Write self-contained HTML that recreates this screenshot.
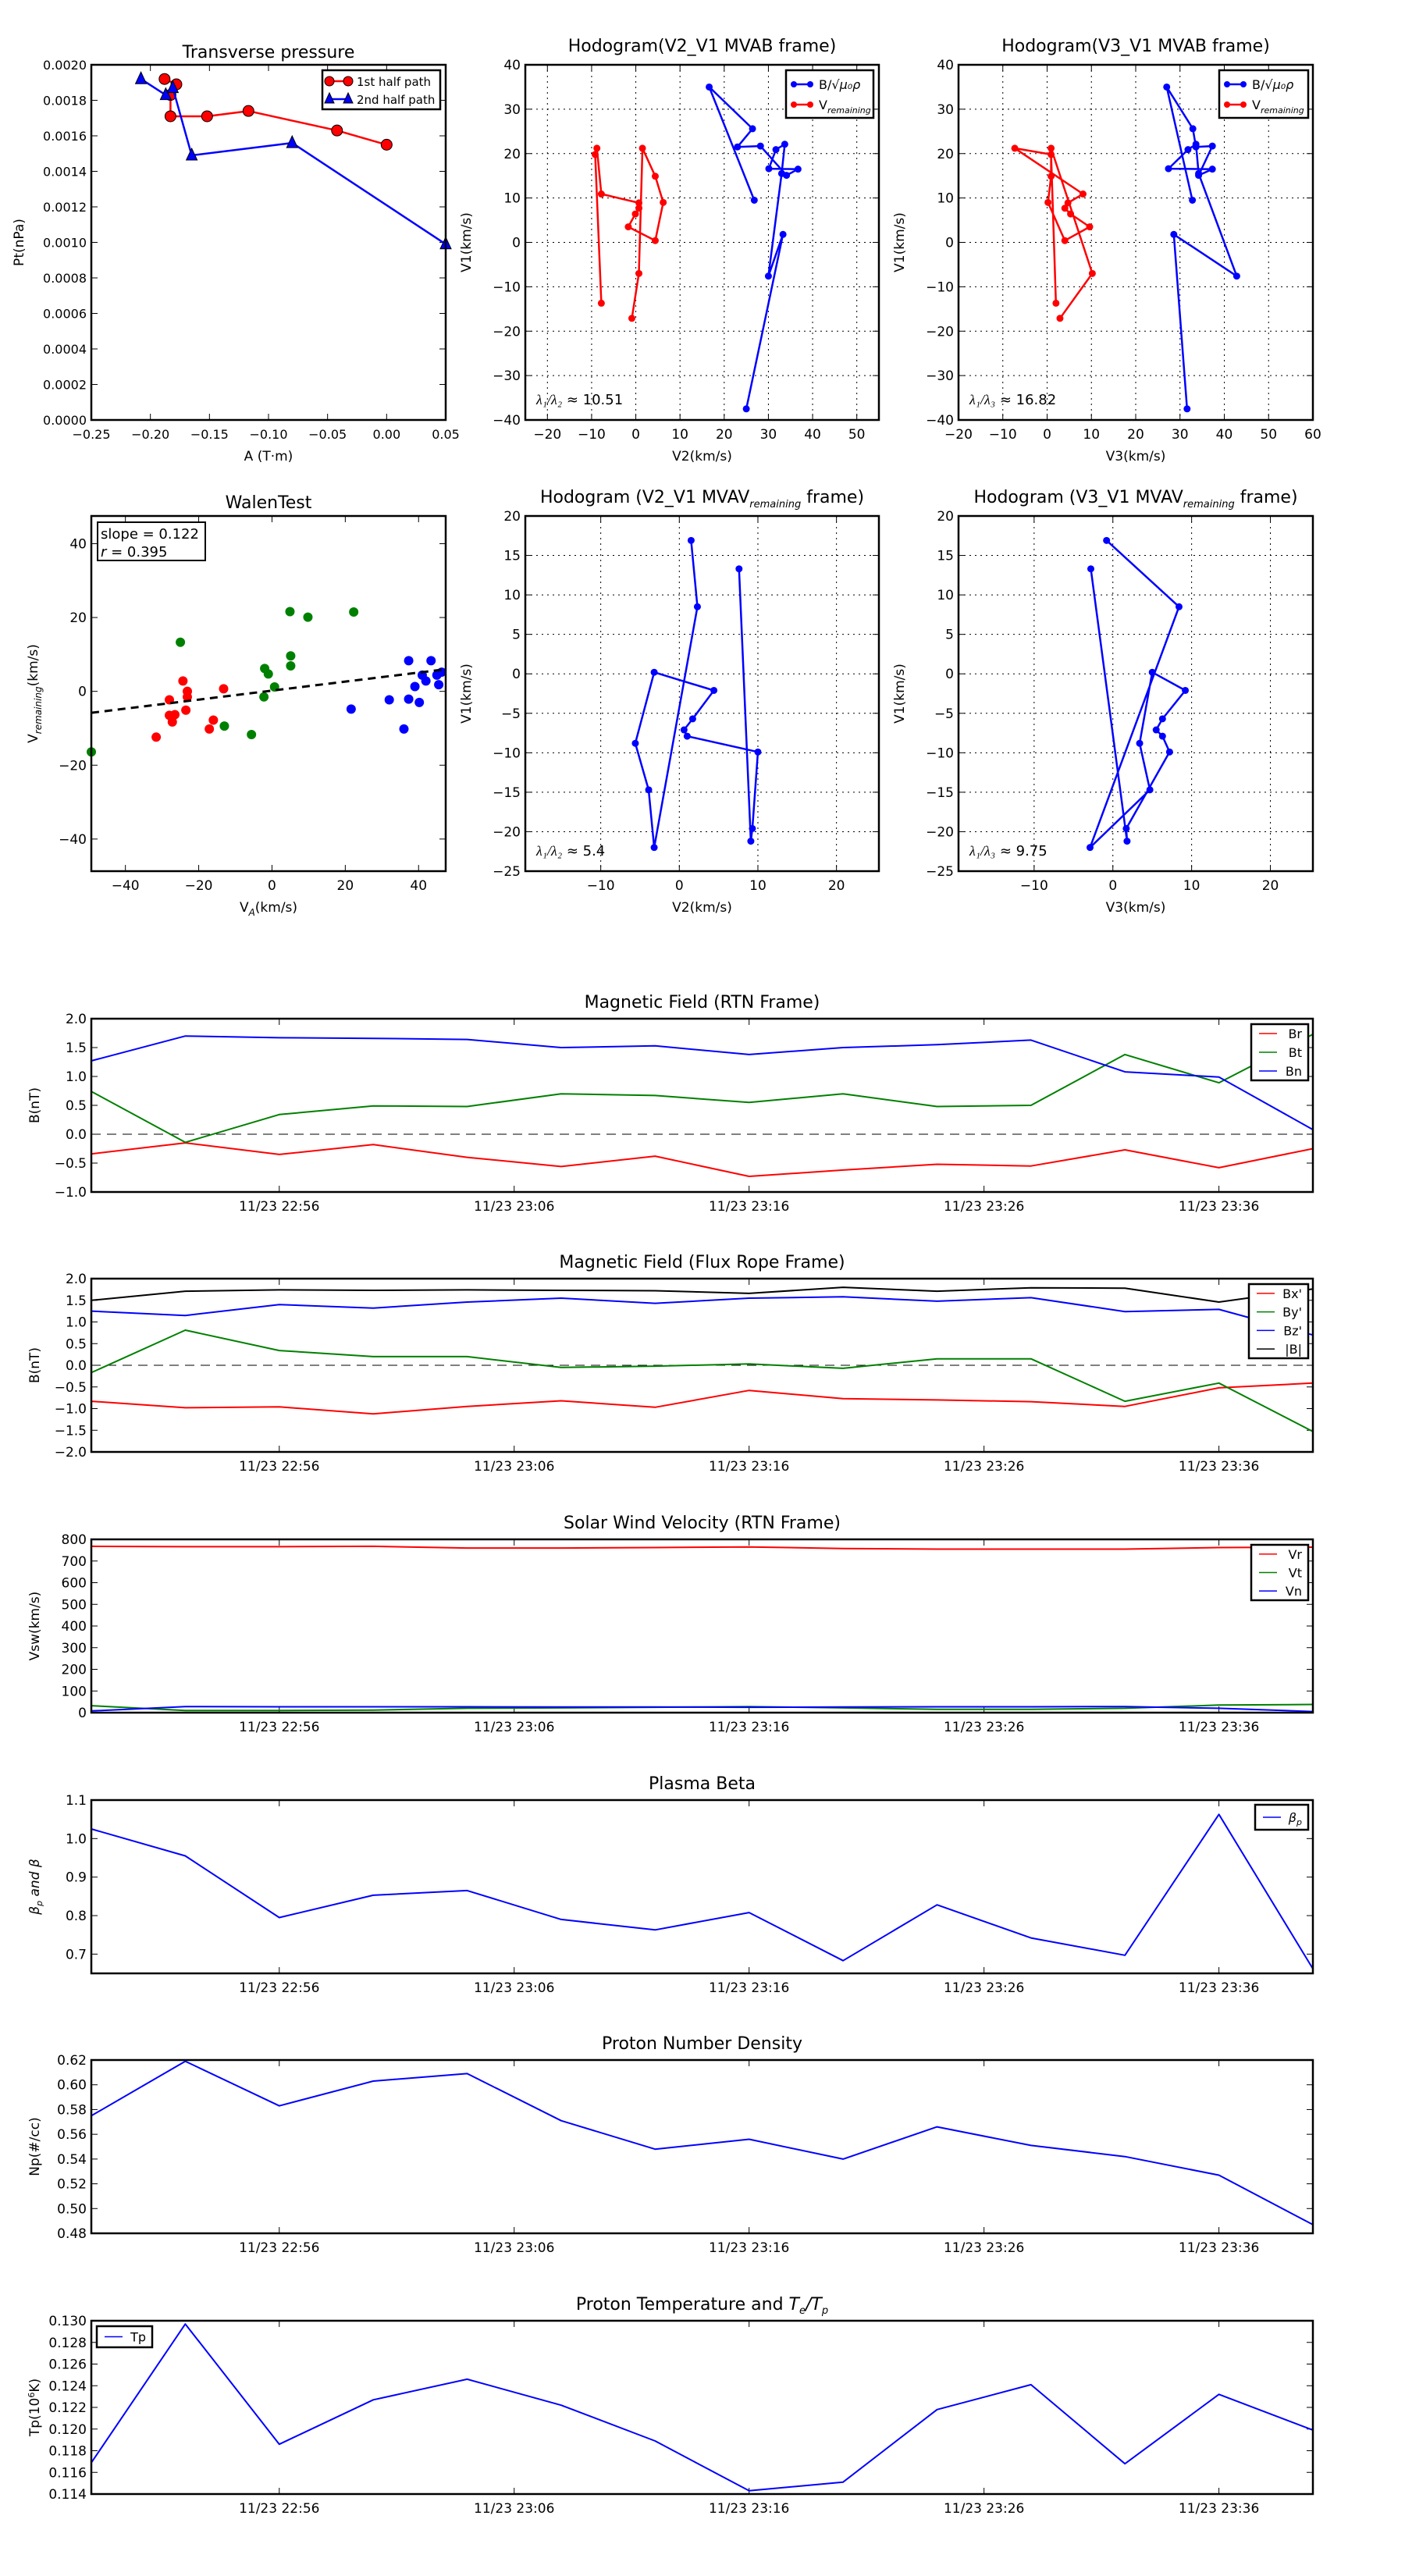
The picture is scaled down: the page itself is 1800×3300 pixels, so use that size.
<!DOCTYPE html>
<html><head><meta charset="utf-8"><style>
body{margin:0;background:#fff}
svg{display:block;font-family:"DejaVu Sans","Liberation Sans",sans-serif}
</style></head><body>
<svg id="fig" width="1800" height="3300" viewBox="0 0 1800 3300" xmlns="http://www.w3.org/2000/svg"></svg>
<script>
// ---------- data ----------
const tpRedA=[-0.188,-0.178,-0.183,-0.183,-0.152,-0.117,-0.042,0.0];
const tpRedP=[0.00192,0.00189,0.00183,0.00171,0.00171,0.00174,0.00163,0.00155];
const tpBlueA=[-0.208,-0.187,-0.181,-0.165,-0.08,0.05];
const tpBlueP=[0.00192,0.00183,0.00187,0.00149,0.00156,0.00099];

const h1B_V1=[9.5,35,25.6,21.5,21.7,15.1,16.5,16.6,20.9,22.1,15.5,-7.6,1.8,-37.5];
const h1B_V2=[26.8,16.6,26.4,23,28.2,34.1,36.7,30.1,31.7,33.7,33.0,30,33.3,25];
const h1B_V3=[32.8,27,32.9,33.6,37.3,34.2,37.3,27.4,31.8,33.6,34.2,42.8,28.6,31.6];
const h1V_V1=[-13.7,19.8,21.2,10.9,8.9,7.7,6.4,3.5,0.4,9.0,14.9,21.2,-7.0,-17.1];
const h1V_V2=[-7.8,-9.2,-8.8,-7.8,0.7,0.7,-0.1,-1.7,4.4,6.2,4.4,1.5,0.7,-0.9];
const h1V_V3=[2.0,0.9,-7.3,8.1,4.7,4.0,5.3,9.6,4.0,0.2,0.9,0.9,10.2,2.9];

const h2_V1=[16.9,8.5,-22.0,-14.7,-8.8,0.2,-2.1,-5.7,-7.1,-7.9,-9.9,-19.6,-21.2,13.3];
const h2_V2=[1.5,2.3,-3.2,-3.9,-5.6,-3.2,4.4,1.7,0.6,1.0,10,9.3,9.1,7.6];
const h2_V3=[-0.8,8.4,-2.9,4.7,3.4,5.0,9.2,6.3,5.5,6.3,7.2,1.7,1.8,-2.8];

const wRedX=[-24.3,-23.1,-23.1,-28,-13.2,-23.5,-26.5,-28,-27.2,-16,-17.1,-31.6];
const wRedY=[2.8,0,-1.5,-2.3,0.7,-5.1,-6.3,-6.5,-8.3,-7.8,-10.2,-12.4];
const wGreenX=[4.9,22.3,9.8,-25,5.1,5.1,-2,-1,0.7,-2.2,-13,-5.6,-49.3];
const wGreenY=[21.6,21.5,20.1,13.3,9.6,6.9,6.2,4.7,1.2,-1.5,-9.4,-11.7,-16.4];
const wBlueX=[37.3,43.4,46.3,41,42,45,45.5,39,32,37.3,40.2,21.6,36];
const wBlueY=[8.3,8.3,5.2,4.4,2.8,4.4,1.8,1.3,-2.3,-2.1,-3,-4.8,-10.2];
const walenSlope=0.122, walenIntercept=0.2;

const tMin=[0,4,8,12,16,20,24,28,32,36,40,44,48,52];
const tickMin=[8,18,28,38,48];
const tickLab=["11/23 22:56","11/23 23:06","11/23 23:16","11/23 23:26","11/23 23:36"];
const Br=[-0.34,-0.15,-0.35,-0.18,-0.40,-0.56,-0.38,-0.73,-0.62,-0.52,-0.55,-0.27,-0.58,-0.25];
const Bt=[0.74,-0.14,0.34,0.49,0.48,0.70,0.67,0.55,0.70,0.48,0.50,1.38,0.89,1.73];
const Bn=[1.27,1.70,1.67,1.66,1.64,1.50,1.53,1.38,1.50,1.55,1.63,1.08,0.99,0.08];
const Bx=[-0.83,-0.98,-0.96,-1.12,-0.95,-0.82,-0.97,-0.58,-0.77,-0.80,-0.84,-0.95,-0.52,-0.41];
const By=[-0.17,0.81,0.34,0.20,0.20,-0.05,-0.02,0.03,-0.07,0.15,0.15,-0.83,-0.41,-1.53];
const Bz=[1.25,1.15,1.40,1.32,1.46,1.55,1.43,1.55,1.58,1.48,1.56,1.24,1.29,0.70];
const Bm=[1.50,1.71,1.74,1.73,1.74,1.73,1.72,1.66,1.80,1.71,1.79,1.78,1.46,1.76];
const Vr=[768,766,766,768,760,760,762,765,758,755,755,755,762,764];
const Vt=[32,10,10,12,20,22,25,28,22,15,15,20,35,38];
const Vn=[8,28,27,27,27,26,26,25,26,27,27,28,20,5];
const Beta=[1.025,0.955,0.795,0.853,0.865,0.79,0.763,0.808,0.683,0.828,0.742,0.697,1.063,0.662];
const Np=[0.575,0.619,0.583,0.603,0.609,0.571,0.548,0.556,0.540,0.566,0.551,0.542,0.527,0.487];
const Tp=[0.1169,0.1297,0.1186,0.1227,0.1246,0.1222,0.1189,0.1143,0.1151,0.1218,0.1241,0.1168,0.1232,0.1199];

// ---------- helpers ----------
const NS="http://www.w3.org/2000/svg";
const fig=document.getElementById('fig');
function mk(tag,attrs,parent){const e=document.createElementNS(NS,tag);for(const k in attrs)e.setAttribute(k,attrs[k]);(parent||fig).appendChild(e);return e;}
function fmt(v,d){const s=Math.abs(v).toFixed(d);return (v<-1e-12?'\u2212':'')+s;}
function lin(d0,d1,p0,p1){return v=>p0+(v-d0)*(p1-p0)/(d1-d0);}

function axesBox(g,L,T,R,B){
  const r=mk('rect',{x:L,y:T,width:R-L,height:B-T,fill:'none',stroke:'#000','stroke-width':2.5},g);
  
  
}
function title(g,x,y,txt,size){
  const t=mk('text',{x:x,y:y,'text-anchor':'middle','font-size':size||22},g);
  t.innerHTML=txt;
  
  
  return t;
}
function xTicks(g,sx,vals,labs,T,B,grid,fs){
  vals.forEach((v,i)=>{
    const x=sx(v);
    const t1=mk('line',{x1:x,x2:x,y1:B,y2:B-8,stroke:'#000','stroke-width':1},g);
    
    
    mk('line',{x1:x,x2:x,y1:T,y2:T+8,stroke:'#000','stroke-width':1},g);
    if(grid){const gl=mk('line',{x1:x,x2:x,y1:T,y2:B,stroke:'#000','stroke-width':1,'stroke-dasharray':'2,5'},g);
      
      }
    if(labs[i]!==''){const t=mk('text',{x:x,y:B+24,'text-anchor':'middle','font-size':fs||17},g);t.textContent=labs[i];
      
      }
  });
}
function yTicks(g,sy,vals,labs,L,R,grid,fs){
  vals.forEach((v,i)=>{
    const y=sy(v);
    const t1=mk('line',{x1:L,x2:L+8,y1:y,y2:y,stroke:'#000','stroke-width':1},g);
    
    
    mk('line',{x1:R,x2:R-8,y1:y,y2:y,stroke:'#000','stroke-width':1},g);
    if(grid){const gl=mk('line',{x1:L,x2:R,y1:y,y2:y,stroke:'#000','stroke-width':1,'stroke-dasharray':'2,5'},g);
      
      }
    const t=mk('text',{x:L-6,y:y+6,'text-anchor':'end','font-size':fs||17},g);t.textContent=labs[i];
    
    
  });
}
function label(g,x,y,txt,rot,fs){
  const t=mk('text',{x:x,y:y,'text-anchor':'middle','font-size':fs||17},g);
  if(rot)t.setAttribute('transform','rotate(-90 '+x+' '+y+')');
  t.innerHTML=txt;
  
  
}
function polyline(g,xs,ys,sx,sy,color,w,name){
  const pts=xs.map((x,i)=>sx(x).toFixed(1)+','+sy(ys[i]).toFixed(1)).join(' ');
  const p=mk('polyline',{points:pts,fill:'none',stroke:color,'stroke-width':w||2,'stroke-linejoin':'round'},g);
  
  
}
function dots(g,xs,ys,sx,sy,color,r,name){
  xs.forEach((x,i)=>{
    const c=mk('circle',{cx:sx(x),cy:sy(ys[i]),r:r,fill:color},g);
    
    
  });
}
function range(a,b,s){const r=[];for(let v=a;v<=b+1e-9;v+=s)r.push(+v.toFixed(6));return r;}

// ---------- transverse pressure ----------
(function(){
  const L=117,R=571,T=83,B=538;
  const g=mk('g',{});
  
  
  const sx=lin(-0.25,0.05,L,R), sy=lin(0,0.002,B,T);
  const xv=range(-0.25,0.05,0.05), yv=range(0,0.002,0.0002);
  xTicks(g,sx,xv,xv.map(v=>fmt(v,2)),T,B,false,16);
  yTicks(g,sy,yv,yv.map(v=>fmt(v,4)),L,R,false,16);
  polyline(g,tpRedA,tpRedP,sx,sy,'#f00',2.5,'first-half-path-line');
  tpRedA.forEach((a,i)=>{const c=mk('circle',{cx:sx(a),cy:sy(tpRedP[i]),r:7,fill:'#f00',stroke:'#000','stroke-width':1},g);
    
    });
  polyline(g,tpBlueA,tpBlueP,sx,sy,'#00f',2.5,'second-half-path-line');
  tpBlueA.forEach((a,i)=>{const x=sx(a),y=sy(tpBlueP[i]);const p=mk('polygon',{points:`${x},${y-9} ${x-7},${y+6} ${x+7},${y+6}`,fill:'#00f',stroke:'#000','stroke-width':1},g);
    
    });
  axesBox(g,L,T,R,B);
  title(g,(L+R)/2,74,'Transverse pressure');
  label(g,(L+R)/2,590,'A (T·m)');
  label(g,30,(T+B)/2,'Pt(nPa)',true);
  const lg=mk('g',{},g);
  
  
  mk('rect',{x:413,y:90,width:151,height:50,fill:'#fff',stroke:'#000','stroke-width':2.5},lg);
  mk('line',{x1:422,x2:446,y1:104,y2:104,stroke:'#f00','stroke-width':2.5},lg);
  mk('circle',{cx:422,cy:104,r:6,fill:'#f00',stroke:'#000'},lg);mk('circle',{cx:446,cy:104,r:6,fill:'#f00',stroke:'#000'},lg);
  mk('line',{x1:422,x2:446,y1:127,y2:127,stroke:'#00f','stroke-width':2.5},lg);
  mk('polygon',{points:'422,119 416,132 428,132',fill:'#00f',stroke:'#000'},lg);mk('polygon',{points:'446,119 440,132 452,132',fill:'#00f',stroke:'#000'},lg);
  let t=mk('text',{x:457,y:110,'font-size':15},lg);t.textContent='1st half path';
  
  
  t=mk('text',{x:457,y:133,'font-size':15},lg);t.textContent='2nd half path';
  
  
})();

// ---------- hodogram helper ----------
function hodoLegend(g,x0,y0,x1,y1){
  const lg=mk('g',{},g);
  
  
  mk('rect',{x:x0,y:y0,width:x1-x0,height:y1-y0,fill:'#fff',stroke:'#000','stroke-width':2.5},lg);
  [['#00f','B/<tspan font-style="italic">√μ₀ρ</tspan>',y0+18],['#f00','V<tspan font-size="11" font-style="italic" dy="5">remaining</tspan>',y0+44]].forEach(e=>{
    mk('line',{x1:x0+10,x2:x0+31,y1:e[2],y2:e[2],stroke:e[0],'stroke-width':2.5},lg);
    mk('circle',{cx:x0+10,cy:e[2],r:4,fill:e[0]},lg);mk('circle',{cx:x0+31,cy:e[2],r:4,fill:e[0]},lg);
    const t=mk('text',{x:x0+42,y:e[2]+6,'font-size':16},lg);t.innerHTML=e[1];
    
    
  });
}
function hodo(name,L,R,T,B,xr,yr,xv,yv,series,ttl,xl,lam,legend){
  const g=mk('g',{});
  
  
  const sx=lin(xr[0],xr[1],L,R), sy=lin(yr[0],yr[1],B,T);
  xTicks(g,sx,xv,xv.map(v=>fmt(v,0)),T,B,true,17);
  yTicks(g,sy,yv,yv.map(v=>fmt(v,0)),L,R,true,17);
  series.forEach(s=>{polyline(g,s[0],s[1],sx,sy,s[2],2.5,s[3]+'-line');dots(g,s[0],s[1],sx,sy,s[2],4.5,s[3]+'-point');});
  axesBox(g,L,T,R,B);
  title(g,(L+R)/2,T-17,ttl);
  label(g,(L+R)/2,B+52,xl);
  label(g,L-70,(T+B)/2,'V1(km/s)',true);
  const t=mk('text',{x:L+14,y:B-20,'font-size':18},g);t.innerHTML=lam;
  
  
  if(legend)hodoLegend(g,legend[0],legend[1],legend[2],legend[3]);
}
hodo('hodogram-v2-v1-mvab',673,1126,83,538,[-25,55],[-40,40],range(-20,50,10),range(-40,40,10),
  [[h1B_V2,h1B_V1,'#00f','b-field'],[h1V_V2,h1V_V1,'#f00','v-remaining']],'Hodogram(V2_V1 MVAB frame)','V2(km/s)',
  '<tspan font-style="italic" font-family="Liberation Serif">λ₁/λ₂</tspan> ≈ 10.51',[1007,90,1119,151]);
hodo('hodogram-v3-v1-mvab',1228,1682,83,538,[-20,60],[-40,40],range(-20,60,10),range(-40,40,10),
  [[h1B_V3,h1B_V1,'#00f','b-field'],[h1V_V3,h1V_V1,'#f00','v-remaining']],'Hodogram(V3_V1 MVAB frame)','V3(km/s)',
  '<tspan font-style="italic" font-family="Liberation Serif">λ₁/λ₃</tspan> ≈ 16.82',[1562,90,1676,151]);
hodo('hodogram-v2-v1-mvav',673,1126,661,1116,[-19.6,25.4],[-25,20],range(-10,20,10),range(-25,20,5),
  [[h2_V2,h2_V1,'#00f','b-field']],'Hodogram (V2_V1 MVAV<tspan font-size="13" font-style="italic" dy="6">remaining</tspan><tspan dy="-6"> frame)</tspan>','V2(km/s)',
  '<tspan font-style="italic" font-family="Liberation Serif">λ₁/λ₂</tspan> ≈ 5.4',null);
hodo('hodogram-v3-v1-mvav',1228,1682,661,1116,[-19.6,25.4],[-25,20],range(-10,20,10),range(-25,20,5),
  [[h2_V3,h2_V1,'#00f','b-field']],'Hodogram (V3_V1 MVAV<tspan font-size="13" font-style="italic" dy="6">remaining</tspan><tspan dy="-6"> frame)</tspan>','V3(km/s)',
  '<tspan font-style="italic" font-family="Liberation Serif">λ₁/λ₃</tspan> ≈ 9.75',null);

// ---------- walen test ----------
(function(){
  const L=117,R=571,T=661,B=1116;
  const g=mk('g',{});
  
  
  const sx=lin(-49.3,47.4,L,R), sy=lin(-48.7,47.5,B,T);
  const xv=range(-40,40,20), yv=range(-40,40,20);
  xTicks(g,sx,xv,xv.map(v=>fmt(v,0)),T,B,false,17);
  yTicks(g,sy,yv,yv.map(v=>fmt(v,0)),L,R,false,17);
  dots(g,wRedX,wRedY,sx,sy,'#f00',6,'walen-red-point');
  dots(g,wGreenX,wGreenY,sx,sy,'#008000',6,'walen-green-point');
  dots(g,wBlueX,wBlueY,sx,sy,'#00f',6,'walen-blue-point');
  const fx=[-49.3,47.4];
  const fl=mk('line',{x1:sx(fx[0]),y1:sy(walenSlope*fx[0]+walenIntercept),x2:sx(fx[1]),y2:sy(walenSlope*fx[1]+walenIntercept),stroke:'#000','stroke-width':3,'stroke-dasharray':'10,7'},g);
  
  
  axesBox(g,L,T,R,B);
  title(g,(L+R)/2,651,'WalenTest');
  label(g,(L+R)/2,1168,'V<tspan font-size="12" font-style="italic" dy="5">A</tspan><tspan dy="-5">(km/s)</tspan>');
  label(g,48,(T+B)/2,'V<tspan font-size="12" font-style="italic" dy="5">remaining</tspan><tspan dy="-5">(km/s)</tspan>',true);
  const bx=mk('g',{},g);
  
  
  mk('rect',{x:125,y:669,width:138,height:49,fill:'#fff',stroke:'#000','stroke-width':2},bx);
  let t=mk('text',{x:129,y:690,'font-size':18},bx);t.textContent='slope = 0.122';
  t=mk('text',{x:129,y:713,'font-size':18},bx);t.innerHTML='<tspan font-style="italic">r</tspan> = 0.395';
})();

// ---------- time series ----------
const TL=117,TR=1682;
const tx=lin(0,52,TL,TR);
function tsPanel(name,T,yr,yv,yfmt,series,ttl,ylab,legend,zero){
  const B=T+222;
  const g=mk('g',{});
  
  
  const sy=lin(yr[0],yr[1],B,T);
  xTicks(g,tx,tickMin,tickLab,T,B,false,17);
  yTicks(g,sy,yv,yv.map(yfmt),TL,TR,false,17);
  if(zero){const z=mk('line',{x1:TL,x2:TR,y1:sy(0),y2:sy(0),stroke:'#000','stroke-width':1,'stroke-dasharray':'12,8'},g);
    
    }
  series.forEach(s=>polyline(g,tMin,s[0],tx,sy,s[1],2,s[2]+'-line'));
  axesBox(g,TL,T,TR,B);
  title(g,(TL+TR)/2,T-14,ttl,22);
  label(g,50,(T+B)/2,ylab,true,17);
  if(legend){
    const [x0,y0,x1,y1,ents]=legend;
    const lg=mk('g',{},g);
    
    
    mk('rect',{x:x0,y:y0,width:x1-x0,height:y1-y0,fill:'#fff',stroke:'#000','stroke-width':2.5},lg);
    const step=(y1-y0)/ents.length;
    ents.forEach((e,i)=>{
      const y=y0+step*(i+0.5);
      mk('line',{x1:x0+10,x2:x0+33,y1:y,y2:y,stroke:e[1],'stroke-width':1.5},lg);
      const t=mk('text',{x:x1-8,y:y+6,'text-anchor':'end','font-size':16},lg);t.innerHTML=e[0];
      
      
    });
  }
}
tsPanel('magnetic-field-rtn',1305,[-1,2],range(-1,2,0.5),v=>fmt(v,1),
  [[Br,'#f00','br'],[Bt,'#008000','bt'],[Bn,'#00f','bn']],'Magnetic Field (RTN Frame)','B(nT)',
  [1603,1312,1676,1384,[['Br','#f00'],['Bt','#008000'],['Bn','#00f']]],true);
tsPanel('magnetic-field-flux-rope',1638,[-2,2],range(-2,2,0.5),v=>fmt(v,1),
  [[Bx,'#f00','bx'],[By,'#008000','by'],[Bz,'#00f','bz'],[Bm,'#000','bmag']],'Magnetic Field (Flux Rope Frame)','B(nT)',
  [1600,1645,1676,1740,[["Bx'",'#f00'],["By'",'#008000'],["Bz'",'#00f'],['|B|','#000']]],true);
tsPanel('solar-wind-velocity',1972,[0,800],range(0,800,100),v=>fmt(v,0),
  [[Vr,'#f00','vr'],[Vt,'#008000','vt'],[Vn,'#00f','vn']],'Solar Wind Velocity (RTN Frame)','Vsw(km/s)',
  [1603,1979,1676,2050,[['Vr','#f00'],['Vt','#008000'],['Vn','#00f']]],false);
tsPanel('plasma-beta',2306,[0.65,1.1],range(0.7,1.1,0.1),v=>fmt(v,1),
  [[Beta,'#00f','beta']],'Plasma Beta','<tspan font-style="italic">β<tspan font-size="11" dy="4">p</tspan><tspan dy="-4"> and β</tspan></tspan>',
  [1608,2312,1676,2344,[['<tspan font-style="italic">β<tspan font-size="11" dy="4">p</tspan></tspan>','#00f']]],false);
tsPanel('proton-number-density',2639,[0.48,0.62],range(0.48,0.62,0.02),v=>fmt(v,2),
  [[Np,'#00f','np']],'Proton Number Density','Np(#/cc)',null,false);
tsPanel('proton-temperature',2973,[0.114,0.130],range(0.114,0.130,0.002),v=>fmt(v,3),
  [[Tp,'#00f','tp']],'Proton Temperature and <tspan font-style="italic">T<tspan font-size="13" dy="5">e</tspan><tspan dy="-5">/T</tspan><tspan font-size="13" dy="5">p</tspan></tspan>','Tp(10<tspan font-size="11" dy="-6">6</tspan><tspan dy="6">K)</tspan>',
  [124,2980,195,3007,[['Tp','#00f']]],false);
</script>
</body></html>
